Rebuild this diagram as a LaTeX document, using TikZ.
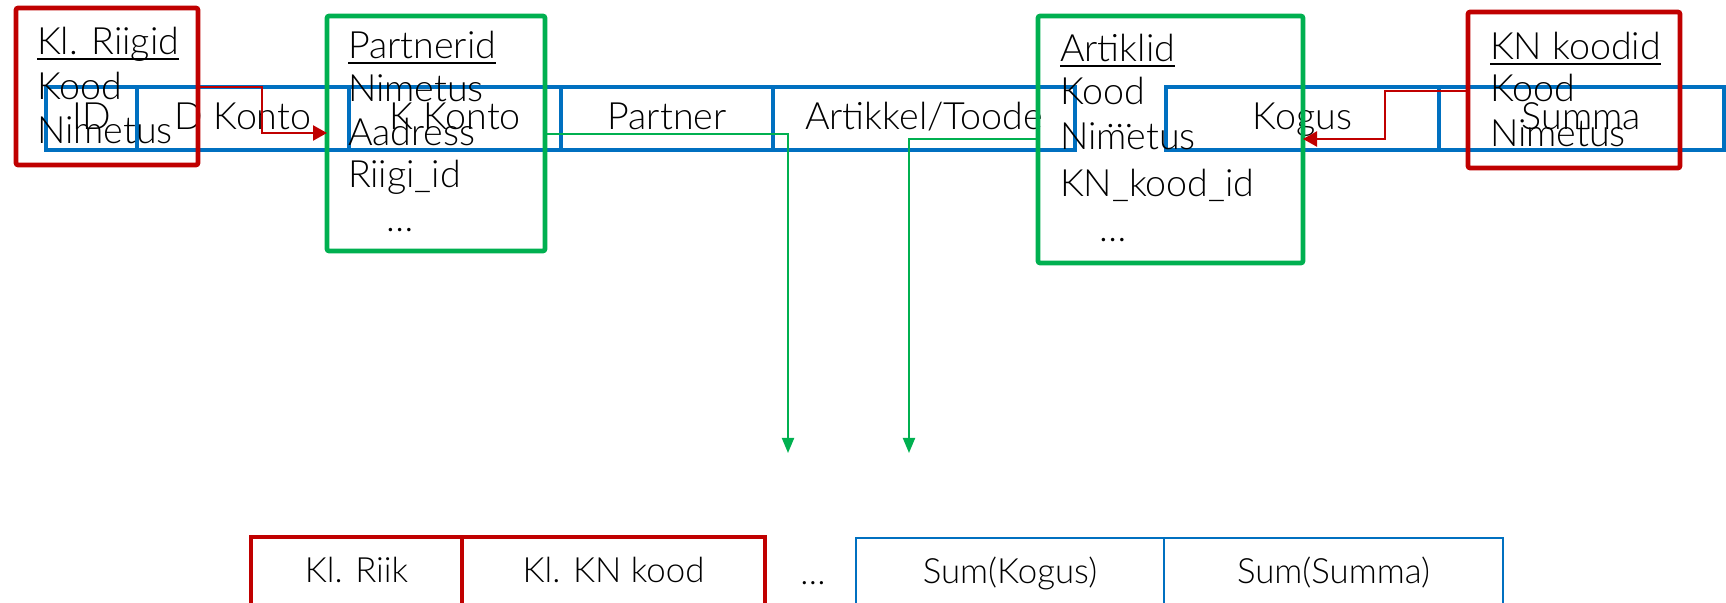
\documentclass[tikz,border=0pt]{standalone}
\usepackage{fontspec}
\IfFontExistsTF{Lato Light}{\setmainfont{Lato Light}}{\setmainfont{Lato}}
\usetikzlibrary{arrows.meta}
\definecolor{cred}{HTML}{C00000}
\definecolor{cgreen}{HTML}{00B050}
\definecolor{cblue}{HTML}{0070C0}
\tikzset{
  cell/.style={draw=cblue, line width=1.7pt, inner sep=0pt, outer sep=0pt, anchor=north west,
    minimum height=31.5pt, text height=14pt, text depth=2.5pt, font=\fontsize{18.8}{22}\selectfont},
  sumcell/.style={draw=cblue, line width=1pt, inner sep=0pt, outer sep=0pt, anchor=north west,
    minimum height=46pt, text height=8pt, text depth=8pt, font=\fontsize{17.4}{20}\selectfont},
  klcell/.style={draw=cred, line width=2.3pt, inner sep=0pt, outer sep=0pt, anchor=north west,
    minimum height=46pt, text height=8pt, text depth=8pt, font=\fontsize{17.4}{20}\selectfont},
  redbox/.style={draw=cred, line width=2.3pt, inner sep=0pt, outer sep=0pt, anchor=north west, rounded corners=1pt},
  greenbox/.style={draw=cgreen, line width=2.3pt, inner sep=0pt, outer sep=0pt, anchor=north west, rounded corners=1pt},
  lbl/.style={inner sep=0pt, outer sep=0pt, anchor=base west, font=\fontsize{18.8}{22}\selectfont},
  dots/.style={inner sep=0pt, outer sep=0pt, anchor=base, font=\fontsize{18.8}{22}\selectfont},
  uline/.style={draw=black, line width=0.8pt},
  redarrow/.style={draw=cred, line width=1.2pt, -{Triangle[length=7pt,width=7.5pt]}},
  greenarrow/.style={draw=cgreen, line width=1pt, -{Triangle[length=7.5pt,width=6pt]}},
}
\begin{document}
\begin{tikzpicture}[x=0.5pt,y=-0.5pt]
\useasboundingbox (0,0) rectangle (1726,603);
\clip (0,0) rectangle (1726,603);
\fill[white] (0,0) rectangle (1726,603);

% main row
\node[cell, minimum width=45.5pt] (id) at (46,87) {ID};
\node[cell, minimum width=106pt] (dk) at (137,87) {D Konto};
\node[cell, minimum width=106pt] (kk) at (349,87) {K Konto};
\node[cell, minimum width=106pt] (pa) at (561,87) {Partner};
\node[cell, minimum width=151pt] (at) at (773,87) {Artikkel/Toode};
\node[dots] (rowdots) at (1120,128) {…};
\node[cell, minimum width=136.5pt] (ko) at (1166,87) {Kogus};
\node[cell, minimum width=142.5pt] (su) at (1439,87) {Summa};

% bend points
\coordinate (r1) at (262,133);
\coordinate (r2top) at (1385,91);
\coordinate (r2) at (1385,139);
\coordinate (g1) at (788,134);
\coordinate (g1end) at (788,453);
\coordinate (g2) at (909,139);
\coordinate (g2end) at (909,453);

% boxes
\node[redbox, minimum width=91pt, minimum height=78.5pt] (kr) at (16,8) {};
\node[greenbox, minimum width=109pt, minimum height=117.5pt] (pb) at (327,16) {};
\node[greenbox, minimum width=132.5pt, minimum height=123.5pt] (ab) at (1038,16) {};
\node[redbox, minimum width=106pt, minimum height=78pt] (kn) at (1468,12) {};

% connectors
\draw[redarrow] (kr.east |- id.north) -| (r1) -- (pb.west |- r1);
\draw[redarrow] (kn.west |- r2top) -- (r2top) -- (r2) -- (ab.east |- r2);
\draw[greenarrow] (pb.east |- g1) -- (g1) -- (g1end);
\draw[greenarrow] (ab.west |- g2) -- (g2) -- (g2end);

% Kl. Riigid
\node[lbl] (kr1) at (37,55) {Kl. Riigid};
\draw[uline] ([yshift=-2pt]kr1.base west) -- ([yshift=-2pt]kr1.base east);
\node[lbl] (kr2) at (37,100) {Kood};
\node[lbl] (kr3) at (37,144) {Nimetus};

% Partnerid
\node[lbl] (pb1) at (348,59) {Partnerid};
\draw[uline] ([yshift=-2pt]pb1.base west) -- ([yshift=-2pt]pb1.base east);
\node[lbl] (pb2) at (348,102) {Nimetus};
\node[lbl] (pb3) at (348,146) {Aadress};
\node[lbl] (pb4) at (348,188) {Riigi\_id};
\node[dots] (pb5) at (400,232) {…};

% Artiklid
\node[lbl] (ab1) at (1060,62) {Artiklid};
\draw[uline] ([yshift=-2pt]ab1.base west) -- ([yshift=-2pt]ab1.base east);
\node[lbl] (ab2) at (1060,105) {Kood};
\node[lbl] (ab3) at (1060,150) {Nimetus};
\node[lbl] (ab4) at (1060,197) {KN\_kood\_id};
\node[dots] (ab5) at (1113,242) {…};

% KN koodid
\node[lbl] (kn1) at (1490,60) {KN koodid};
\draw[uline] ([yshift=-2pt]kn1.base west) -- ([yshift=-2pt]kn1.base east);
\node[lbl] (kn2) at (1490,102) {Kood};
\node[lbl] (kn3) at (1490,147) {Nimetus};

% bottom row
\node[klcell, minimum width=105.5pt] (riik) at (251,537) {Kl. Riik};
\node[klcell, minimum width=151.5pt] (knk) at (462,537) {Kl. KN kood};
\node[dots, font=\fontsize{17.4}{20}\selectfont] (botdots) at (813,585) {…};
\node[sumcell, minimum width=154pt] (sk) at (856,538) {Sum(Kogus)};
\node[sumcell, minimum width=169.5pt] (ss) at (1164,538) {Sum(Summa)};
\end{tikzpicture}
\end{document}
